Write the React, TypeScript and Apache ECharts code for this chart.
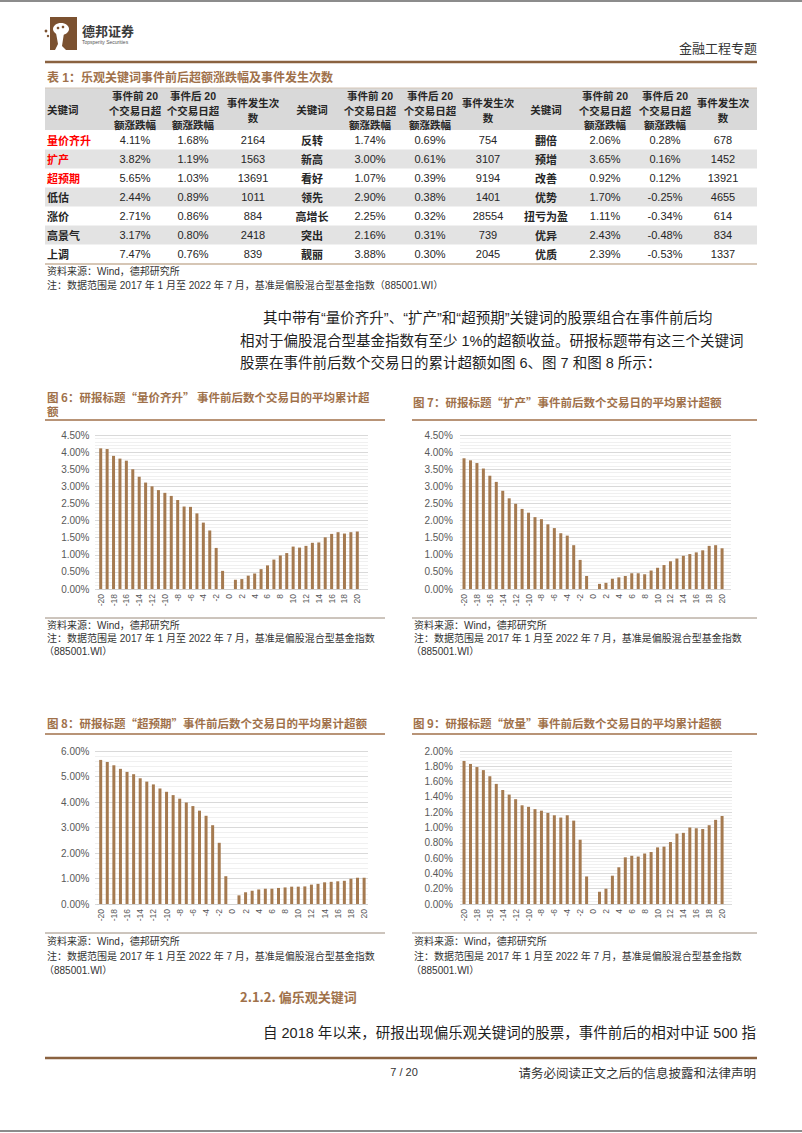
import React, { useEffect, useRef } from 'react';
import * as echarts from 'echarts';

// ---------- data ----------
const CATEGORIES = ['-20','-19','-18','-17','-16','-15','-14','-13','-12','-11','-10','-9','-8','-7','-6','-5','-4','-3','-2','-1','0','1','2','3','4','5','6','7','8','9','10','11','12','13','14','15','16','17','18','19','20'];

const FIG6_VALUES = [4.11,4.09,3.89,3.81,3.75,3.50,3.28,3.11,3.00,2.89,2.81,2.72,2.60,2.41,2.40,2.21,1.94,1.71,1.20,0.53,0,0.27,0.29,0.39,0.45,0.58,0.69,0.86,0.98,1.05,1.24,1.21,1.26,1.35,1.36,1.51,1.61,1.66,1.62,1.66,1.68];
const FIG7_VALUES = [3.82,3.76,3.68,3.52,3.31,3.13,2.87,2.65,2.49,2.34,2.23,2.10,2.04,1.89,1.78,1.63,1.56,1.28,0.85,0.38,0,0.15,0.18,0.30,0.34,0.38,0.46,0.46,0.43,0.54,0.62,0.70,0.81,0.89,0.97,1.02,1.07,1.13,1.26,1.28,1.19];
const FIG8_VALUES = [5.65,5.57,5.44,5.30,5.18,5.09,4.93,4.80,4.69,4.53,4.40,4.27,4.13,3.98,3.84,3.66,3.46,3.09,2.40,1.09,0,0.34,0.46,0.52,0.57,0.60,0.60,0.63,0.65,0.68,0.68,0.69,0.76,0.79,0.85,0.87,0.89,0.91,0.99,1.03,1.03];
const FIG9_VALUES = [1.87,1.83,1.79,1.75,1.67,1.57,1.49,1.43,1.37,1.29,1.27,1.24,1.22,1.19,1.16,1.13,1.16,1.09,0.84,0.36,0,0.16,0.20,0.37,0.48,0.61,0.63,0.62,0.66,0.68,0.74,0.75,0.81,0.92,0.93,1.00,0.99,0.98,1.03,1.10,1.15];

const TABLE_HEADER_BEFORE = ['事件前 20', '个交易日超', '额涨跌幅'];
const TABLE_HEADER_AFTER = ['事件后 20', '个交易日超', '额涨跌幅'];
const TABLE_HEADER_COUNT = ['事件发生次', '数'];
const TABLE_HEADER_KEYWORD = '关键词';

const KEYWORDS_A = ['量价齐升','扩产','超预期','低估','涨价','高景气','上调'];
const BEFORE_A = ['4.11%','3.82%','5.65%','2.44%','2.71%','3.17%','7.47%'];
const AFTER_A = ['1.68%','1.19%','1.03%','0.89%','0.86%','0.80%','0.76%'];
const COUNT_A = ['2164','1563','13691','1011','884','2418','839'];
const HIGHLIGHT_A = [true, true, true, false, false, false, false];

const KEYWORDS_B = ['反转','新高','看好','领先','高增长','突出','靓丽'];
const BEFORE_B = ['1.74%','3.00%','1.07%','2.90%','2.25%','2.16%','3.88%'];
const AFTER_B = ['0.69%','0.61%','0.39%','0.38%','0.32%','0.31%','0.30%'];
const COUNT_B = ['754','3107','9194','1401','28554','739','2045'];

const KEYWORDS_C = ['翻倍','预增','改善','优势','扭亏为盈','优异','优质'];
const BEFORE_C = ['2.06%','3.65%','0.92%','1.70%','1.11%','2.43%','2.39%'];
const AFTER_C = ['0.28%','0.16%','0.12%','-0.25%','-0.34%','-0.48%','-0.53%'];
const COUNT_C = ['678','1452','13921','4655','614','834','1337'];

// ---------- styles ----------
const BROWN = '#a0714a';
const DARK_BROWN = '#8a6240';
const BAR = '#a57a50';
const GRID = '#d9d9d9';
const MIXED = '"Liberation Sans", Arial, "Noto Sans CJK SC", sans-serif';
const CJK = '"Noto Sans CJK SC", "Liberation Sans", sans-serif';

function txt(x: number, y: number, text: string, o: any = {}) {
  const align = o.align || 'left';
  return {
    type: 'text', x, y, silent: true, z: 10,
    style: {
      text,
      fontSize: o.size || 12,
      fontFamily: o.family || MIXED,
      fontWeight: o.weight || 'normal',
      fill: o.color || '#262626',
      align, textAlign: align,
      verticalAlign: 'middle', textVerticalAlign: 'middle',
    },
  };
}
function hline(x1: number, x2: number, y: number, color: string, w = 1) {
  return { type: 'line', silent: true, z: 5, shape: { x1, y1: y, x2, y2: y }, style: { stroke: color, lineWidth: w } };
}
function rect(x: number, y: number, width: number, height: number, fill: string) {
  return { type: 'rect', silent: true, z: 1, shape: { x, y, width, height }, style: { fill } };
}

function buildGraphics() {
  const els: any[] = [];
  // page borders
  els.push(hline(0, 802, 1, '#8c8c8c', 2));
  els.push(hline(0, 802, 1131, '#8c8c8c', 2));

  // logo
  els.push(rect(50, 17, 27, 33, '#7b5130'));
  els.push({ type: 'ellipse', silent: true, z: 2, shape: { cx: 61, cy: 29, rx: 8, ry: 6 }, style: { fill: '#ffffff' } });
  els.push({ type: 'polygon', silent: true, z: 2, shape: { points: [[56, 33], [64, 33], [62, 46], [66, 50], [55, 50], [58, 44]] }, style: { fill: '#ffffff' } });
  els.push({ type: 'circle', silent: true, z: 3, shape: { cx: 58, cy: 28, r: 1.3 }, style: { fill: '#7b5130' } });
  els.push({ type: 'circle', silent: true, z: 3, shape: { cx: 63, cy: 27, r: 1.3 }, style: { fill: '#7b5130' } });
  els.push({ type: 'circle', silent: true, z: 3, shape: { cx: 46, cy: 31, r: 1.4 }, style: { fill: '#7b5130' } });
  els.push({ type: 'circle', silent: true, z: 3, shape: { cx: 48, cy: 36, r: 1.2 }, style: { fill: '#7b5130' } });
  els.push(txt(82, 30, '德邦证券', { size: 13, weight: 'bold', color: '#3a3a3a', family: CJK }));
  els.push(txt(82, 42, 'Topsperity Securities', { size: 5, color: '#555' }));
  els.push(txt(757, 47, '金融工程专题', { size: 13, align: 'right', color: '#333', family: CJK }));
  els.push(hline(45, 757, 62, DARK_BROWN, 2.5));

  // table
  els.push(txt(47, 78, '表 1：乐观关键词事件前后超额涨跌幅及事件发生次数', { size: 12, weight: 'bold', color: BROWN }));
  els.push(rect(45, 88, 712, 42, '#d9d9d9'));
  els.push(hline(45, 757, 88, '#d6c7b8', 1));
  const rowTop = 130.5, rowH = 19;
  for (let i = 0; i < 7; i++) {
    if (i % 2 === 1) els.push(rect(45, rowTop + rowH * i, 712, rowH, '#e3e3e3'));
  }
  els.push(hline(45, 757, rowTop + rowH * 7 + 0.5, '#c9b39c', 1.5));

  const groups = [
    { kwX: 47, kwAlign: 'left', cols: [135, 193, 253], kw: KEYWORDS_A, b: BEFORE_A, a: AFTER_A, c: COUNT_A, hl: HIGHLIGHT_A },
    { kwX: 312, kwAlign: 'center', cols: [370, 430, 488], kw: KEYWORDS_B, b: BEFORE_B, a: AFTER_B, c: COUNT_B, hl: null },
    { kwX: 546, kwAlign: 'center', cols: [605, 665, 723], kw: KEYWORDS_C, b: BEFORE_C, a: AFTER_C, c: COUNT_C, hl: null },
  ];
  const hdr = { size: 10.5, weight: 'bold', color: '#262626', align: 'center' };
  groups.forEach((g) => {
    els.push(txt(g.kwX, 110, TABLE_HEADER_KEYWORD, { ...hdr, align: g.kwAlign }));
    TABLE_HEADER_BEFORE.forEach((s, k) => els.push(txt(g.cols[0], 96 + 14.5 * k, s, hdr)));
    TABLE_HEADER_AFTER.forEach((s, k) => els.push(txt(g.cols[1], 96 + 14.5 * k, s, hdr)));
    TABLE_HEADER_COUNT.forEach((s, k) => els.push(txt(g.cols[2], 103 + 14.5 * k, s, hdr)));
    for (let i = 0; i < 7; i++) {
      const y = rowTop + rowH * i + rowH / 2;
      const red = g.hl && g.hl[i];
      els.push(txt(g.kwX, y, g.kw[i], { size: 11, weight: 'bold', color: red ? '#ff0000' : '#262626', align: g.kwAlign, family: CJK }));
      els.push(txt(g.cols[0], y, g.b[i], { size: 11, align: 'center' }));
      els.push(txt(g.cols[1], y, g.a[i], { size: 11, align: 'center' }));
      els.push(txt(g.cols[2], y, g.c[i], { size: 11, align: 'center' }));
    }
  });
  els.push(txt(47, 271, '资料来源：Wind，德邦研究所', { size: 10, color: '#333' }));
  els.push(txt(47, 285, '注：数据范围是 2017 年 1 月至 2022 年 7 月，基准是偏股混合型基金指数（885001.WI）', { size: 10, color: '#333' }));

  // paragraph
  const para = { size: 14.5, color: '#1f1f1f' };
  els.push(txt(263, 318, '其中带有“量价齐升”、“扩产”和“超预期”关键词的股票组合在事件前后均', para));
  els.push(txt(240, 341, '相对于偏股混合型基金指数有至少 1%的超额收益。研报标题带有这三个关键词', para));
  els.push(txt(240, 363, '股票在事件前后数个交易日的累计超额如图 6、图 7 和图 8 所示：', para));

  // figure titles
  els.push(txt(47, 397, '图 6：研报标题“量价齐升” 事件前后数个交易日的平均累计超', { size: 11.5, weight: 'bold', color: BROWN, family: CJK }));
  els.push(txt(47, 411, '额', { size: 11.5, weight: 'bold', color: BROWN, family: CJK }));
  els.push(hline(45, 385, 420, BROWN, 1.5));
  els.push(txt(413, 402, '图 7：研报标题“扩产”事件前后数个交易日的平均累计超额', { size: 11.5, weight: 'bold', color: BROWN, family: CJK }));
  els.push(hline(412, 757, 420, BROWN, 1.5));

  const srcs = [[45, 385, 47], [412, 757, 414]];
  srcs.forEach(([x1, x2, tx]) => {
    els.push(hline(x1, x2, 618, '#9a8a7a', 1));
    els.push(txt(tx, 625, '资料来源：Wind，德邦研究所', { size: 10, color: '#333' }));
    els.push(txt(tx, 638, '注：数据范围是 2017 年 1 月至 2022 年 7 月，基准是偏股混合型基金指数', { size: 10, color: '#333' }));
    els.push(txt(tx - 3, 651, '（885001.WI）', { size: 10, color: '#333' }));
  });

  els.push(txt(47, 723, '图 8：研报标题“超预期”事件前后数个交易日的平均累计超额', { size: 11.5, weight: 'bold', color: BROWN, family: CJK }));
  els.push(hline(45, 385, 734, BROWN, 1.5));
  els.push(txt(413, 723, '图 9：研报标题“放量”事件前后数个交易日的平均累计超额', { size: 11.5, weight: 'bold', color: BROWN, family: CJK }));
  els.push(hline(412, 757, 734, BROWN, 1.5));
  srcs.forEach(([x1, x2, tx]) => {
    els.push(hline(x1, x2, 933, '#9a8a7a', 1));
    els.push(txt(tx, 941, '资料来源：Wind，德邦研究所', { size: 10, color: '#333' }));
    els.push(txt(tx, 956, '注：数据范围是 2017 年 1 月至 2022 年 7 月，基准是偏股混合型基金指数', { size: 10, color: '#333' }));
    els.push(txt(tx - 3, 970, '（885001.WI）', { size: 10, color: '#333' }));
  });

  // section
  els.push(txt(240, 996, '2.1.2. 偏乐观关键词', { size: 13, weight: 'bold', color: BROWN, family: CJK }));
  els.push(txt(263, 1033, '自 2018 年以来，研报出现偏乐观关键词的股票，事件前后的相对中证 500 指', para));

  // footer
  els.push(hline(45, 757, 1058, DARK_BROWN, 2.5));
  els.push(txt(404, 1072, '7 / 20', { size: 11, align: 'center', color: '#333' }));
  els.push(txt(756, 1072, '请务必阅读正文之后的信息披露和法律声明', { size: 12.5, align: 'right', color: '#333', family: CJK }));
  return els;
}

const CHARTS = [
  { values: FIG6_VALUES, max: 4.5, interval: 0.5, grid: { left: 97.5, top: 435, width: 263, height: 154 }, bg: { left: 95, width: 273 } },
  { values: FIG7_VALUES, max: 4.5, interval: 0.5, grid: { left: 460.8, top: 435, width: 264.5, height: 154 }, bg: { left: 460, width: 271 } },
  { values: FIG8_VALUES, max: 6, interval: 1, grid: { left: 97.4, top: 751, width: 270, height: 153 }, bg: { left: 95, width: 273 } },
  { values: FIG9_VALUES, max: 2, interval: 0.2, grid: { left: 460.8, top: 751, width: 264.5, height: 153 }, bg: { left: 460, width: 272 } },
];

function buildOption() {
  const grid: any[] = [];
  const xAxis: any[] = [];
  const yAxis: any[] = [];
  const series: any[] = [];
  CHARTS.forEach((c, i) => {
    grid.push({ ...c.grid, containLabel: false });
    xAxis.push({
      type: 'category', gridIndex: i, data: CATEGORIES,
      axisTick: { show: false },
      axisLine: { lineStyle: { color: '#d0d0d0' } },
      axisLabel: { rotate: 90, interval: 1, fontSize: 8.5, color: '#595959', margin: 5, fontFamily: MIXED },
    });
    yAxis.push({
      type: 'value', gridIndex: i, min: 0, max: c.max, interval: c.interval,
      axisLine: { show: false }, axisTick: { show: false }, splitLine: { show: false },
      axisLabel: { formatter: (v: number) => v.toFixed(2) + '%', fontSize: 10, color: '#595959', margin: 8, fontFamily: MIXED },
    });
    series.push({
      type: 'bar', xAxisIndex: i, yAxisIndex: i, data: c.values, barWidth: 3,
      itemStyle: { color: BAR }, silent: true,
    });
  });
  CHARTS.forEach((c, i) => {
    const gi = 4 + i;
    grid.push({ left: c.bg.left, width: c.bg.width, top: c.grid.top, height: c.grid.height });
    xAxis.push({ type: 'value', gridIndex: gi, min: 0, max: 1, show: false });
    yAxis.push({
      type: 'value', gridIndex: gi, min: 0, max: c.max, interval: c.interval,
      axisLine: { show: false }, axisTick: { show: false }, axisLabel: { show: false },
      splitLine: { show: true, lineStyle: { color: GRID, width: 1 } },
      minorTick: { show: false, splitNumber: 5 },
      minorSplitLine: { show: true, lineStyle: { color: '#f0f0f0', width: 1 } },
    });
  });
  return {
    animation: false,
    backgroundColor: '#ffffff',
    grid, xAxis, yAxis, series,
    graphic: { elements: buildGraphics() },
  };
}

export default function App() {
  const ref = useRef<HTMLDivElement>(null);
  useEffect(() => {
    if (!ref.current) return;
    const chart = echarts.init(ref.current, undefined, { renderer: 'svg' });
    chart.setOption(buildOption() as any);
    return () => chart.dispose();
  }, []);
  return (
    <div
      ref={ref}
      style={{ position: 'absolute', left: 0, top: 0, width: 802, height: 1133, background: '#fff' }}
    />
  );
}
